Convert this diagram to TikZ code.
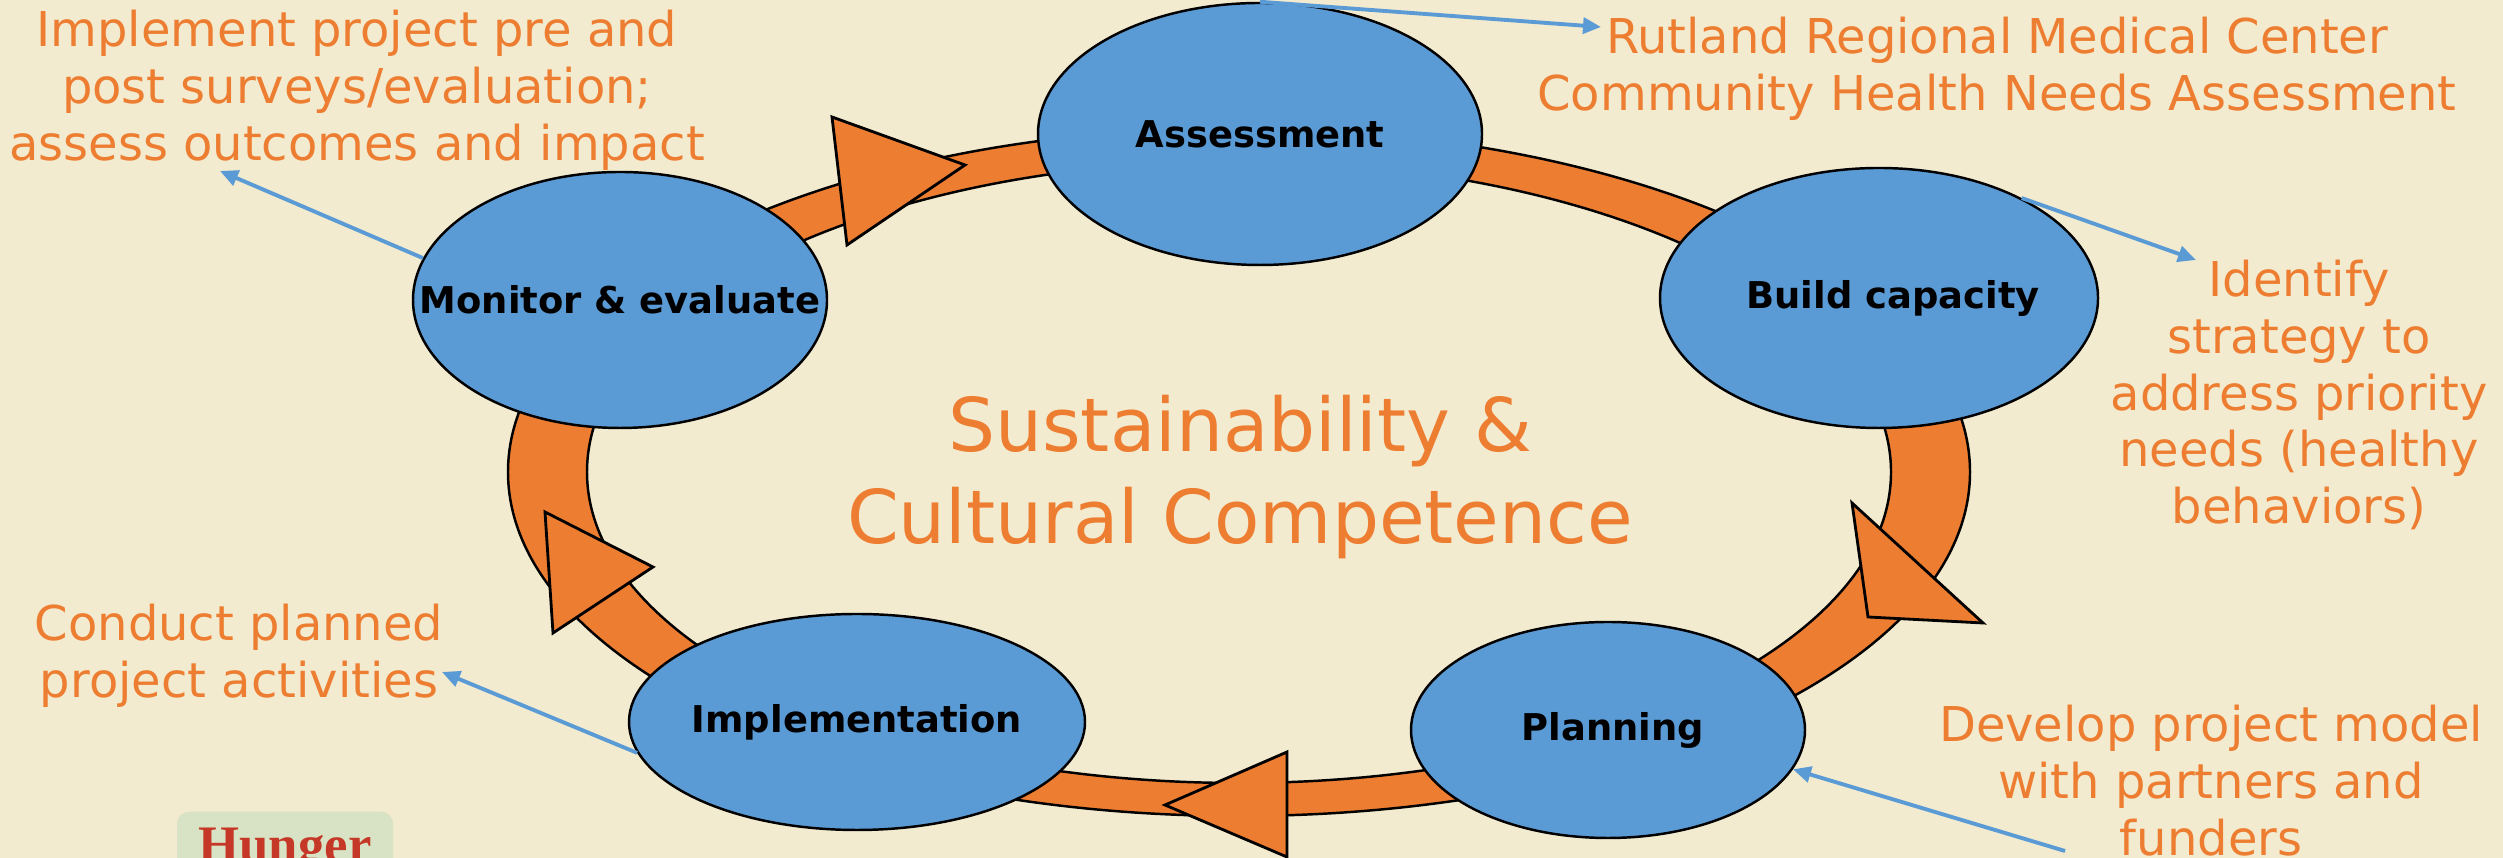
\documentclass[tikz,border=0pt]{standalone}
\usepackage{fontspec}
\setmainfont{DejaVu Sans}
\newfontfamily\headfont{Liberation Serif}
\usetikzlibrary{shapes.geometric,arrows.meta}
\definecolor{canvas}{RGB}{243,235,207}
\definecolor{cycleblue}{RGB}{91,155,213}
\definecolor{cycleorange}{RGB}{237,125,49}
\definecolor{sage}{RGB}{216,226,196}
\definecolor{brick}{RGB}{197,56,39}
\begin{document}
\begin{tikzpicture}[stage node/.style={ellipse,fill=cycleblue,draw=black,line width=0.7pt,inner sep=0pt},
stage text/.style={inner sep=0pt,font=\fontsize{10.5}{12}\selectfont\bfseries},
note node/.style={anchor=north,align=center,inner sep=0pt,text=cycleorange,font=\fontsize{13.65}{16.2}\selectfont},
pointer/.style={draw=cycleblue,line width=1.1pt,-{Triangle[length=1.8mm,width=1.6mm]}},
band/.style={fill=cycleorange,draw=black,line width=0.7pt},
head/.style={fill=cycleorange,draw=black,line width=0.8pt,line join=miter}]
\useasboundingbox (0,0) rectangle (25.03,8.58);
\clip (0,0) rectangle (25.03,8.58);
\fill[canvas] (0,0) rectangle (25.03,8.58);

% the ring behind the stages
\filldraw[band,even odd rule] (12.39,3.86) ellipse [x radius=7.31,y radius=3.44]
  (12.39,3.86) ellipse [x radius=6.52,y radius=3.11];
% arrow heads on the ring
\filldraw[head] (8.32,7.41) -- (9.65,6.93) -- (8.47,6.13) -- cycle;
\filldraw[head] (18.52,3.55) -- (19.83,2.35) -- (18.68,2.41) -- cycle;
\filldraw[head] (12.87,1.06) -- (11.65,0.53) -- (12.87,0.01) -- cycle;
\filldraw[head] (5.45,3.46) -- (6.53,2.91) -- (5.53,2.25) -- cycle;

% stages
\node[stage node,minimum width=4.44cm,minimum height=2.62cm,label={[stage text]center:Assessment}] (assess) at (12.60,7.24) {};
\node[stage node,minimum width=4.38cm,minimum height=2.60cm,label={[stage text,xshift=0.14cm]center:Build capacity}] (build) at (18.79,5.60) {};
\node[stage node,minimum width=3.94cm,minimum height=2.16cm,label={[stage text,xshift=0.05cm]center:Planning}] (plan) at (16.08,1.28) {};
\node[stage node,minimum width=4.56cm,minimum height=2.16cm,label={[stage text]center:Implementation}] (impl) at (8.57,1.36) {};
\node[stage node,minimum width=4.14cm,minimum height=2.56cm,label={[stage text]center:Monitor \& evaluate}] (monitor) at (6.20,5.58) {};

% notes
\node[note node] (evaltext) at (3.57,8.49) {Implement project pre and\\post surveys/evaluation;\\assess outcomes and impact};
\node[note node] (rutland) at (19.97,8.42) {Rutland Regional Medical Center\\Community Health Needs Assessment};
\node[note node] (identify) at (22.99,5.99) {Identify\\strategy to\\address priority\\needs (healthy\\behaviors)};
\node[note node] (conduct) at (2.39,2.55) {Conduct planned\\project activities};
\node[note node] (develop) at (22.11,1.54) {Develop project model\\with partners and\\funders};
\node[note node,font=\fontsize{21.1}{26.2}\selectfont] (theme) at (12.40,4.635) {Sustainability \&\\Cultural Competence};
\node[anchor=north,fill=sage,rounded corners=0.12cm,minimum width=2.16cm,inner ysep=0.16cm,text=brick,font=\headfont\bfseries\fontsize{15}{18}\selectfont] (hunger) at (2.85,0.47) {Hunger};

% pointers
\coordinate (rutland tip) at (16.01,8.31);
\coordinate (identify tip) at (21.96,5.98);
\coordinate (eval tip) at (2.20,6.87);
\coordinate (conduct tip) at (4.42,1.86);
\coordinate (develop tail) at (20.65,0.07);
\draw (assess.north) edge[pointer] (rutland tip);
\draw (build.35) edge[pointer] (identify tip);
\draw (monitor.168) edge[pointer] (eval tip);
\draw (impl.188) edge[pointer] (conduct tip);
\draw (develop tail) edge[pointer] (plan.-12);
\end{tikzpicture}
\end{document}
